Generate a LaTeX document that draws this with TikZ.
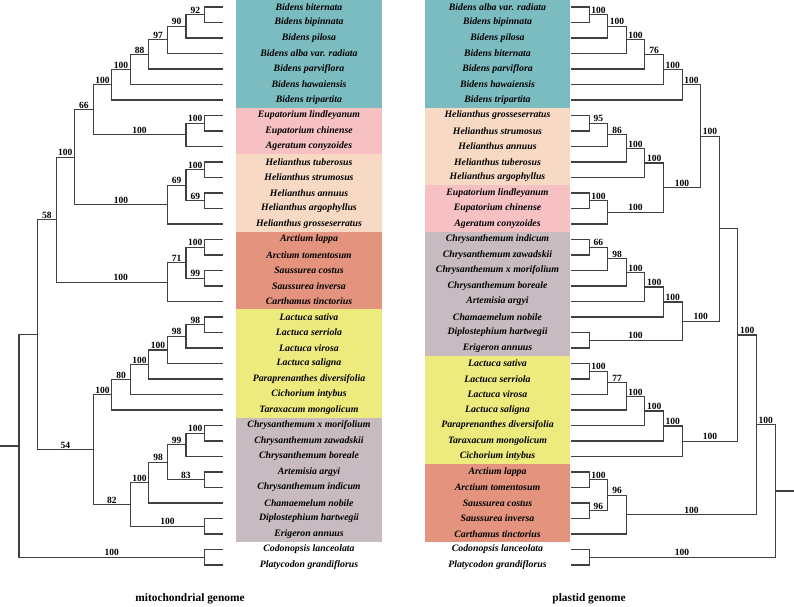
\documentclass[tikz,border=0pt]{standalone}
\usepackage{fontspec}
\setmainfont{Liberation Serif}
\definecolor{bidens}{RGB}{123,188,193}
\definecolor{eupat}{RGB}{247,193,196}
\definecolor{helian}{RGB}{248,217,196}
\definecolor{arctium}{RGB}{228,147,126}
\definecolor{lactuca}{RGB}{238,235,126}
\definecolor{chrysan}{RGB}{200,186,193}

\begin{document}
\begin{tikzpicture}[
    x=1pt, y=-1pt,
    branch/.style={draw=black!75, line width=1.1pt},
    bs/.style={pos=0.75, above, inner sep=0.8pt, font=\fontsize{9.5}{10}\selectfont\bfseries},
    leaf/.style={inner sep=0pt, font=\fontsize{9.8}{11}\selectfont\bfseries\itshape},
    caption/.style={font=\fontsize{11.4}{13}\selectfont\bfseries}
]
    \useasboundingbox (0,0) rectangle (794,606);

    % colour blocks, mitochondrial side
    \fill[bidens]  (236,0) rectangle (382,107.75);
    \fill[eupat]   (236,107.75) rectangle (382,154.25);
    \fill[helian]  (236,154.25) rectangle (382,231.75);
    \fill[arctium] (236,231.75) rectangle (382,309.25);
    \fill[lactuca] (236,309.25) rectangle (382,417.75);
    \fill[chrysan] (236,417.75) rectangle (382,541.75);
    % colour blocks, plastid side
    \fill[bidens]  (425,0) rectangle (570,107.75);
    \fill[helian]  (425,107.75) rectangle (570,185.25);
    \fill[eupat]   (425,185.25) rectangle (570,231.75);
    \fill[chrysan] (425,231.75) rectangle (570,355.75);
    \fill[lactuca] (425,355.75) rectangle (570,464.25);
    \fill[arctium] (425,464.25) rectangle (570,541.75);

    % taxa
    \foreach \t [count=\i from 0] in {Bidens biternata, Bidens bipinnata, Bidens pilosa,
        Bidens alba var. radiata, Bidens parviflora, Bidens hawaiensis, Bidens tripartita,
        Eupatorium lindleyanum, Eupatorium chinense, Ageratum conyzoides,
        Helianthus tuberosus, Helianthus strumosus, Helianthus annuus, Helianthus argophyllus,
        Helianthus grosseserratus, Arctium lappa, Arctium tomentosum, Saussurea costus,
        Saussurea inversa, Carthamus tinctorius, Lactuca sativa, Lactuca serriola,
        Lactuca virosa, Lactuca saligna, Paraprenanthes diversifolia, Cichorium intybus,
        Taraxacum mongolicum, Chrysanthemum x morifolium, Chrysanthemum zawadskii,
        Chrysanthemum boreale, Artemisia argyi, Chrysanthemum indicum, Chamaemelum nobile,
        Diplostephium hartwegii, Erigeron annuus, Codonopsis lanceolata, Platycodon grandiflorus}
    {
        \node[leaf] (ml\i) at (309,{7+15.5*\i}) {\t};
        \coordinate (mt\i) at (223,{7+15.5*\i});
    }
    \foreach \t [count=\i from 0] in {Bidens alba var. radiata, Bidens bipinnata, Bidens pilosa,
        Bidens biternata, Bidens parviflora, Bidens hawaiensis, Bidens tripartita,
        Helianthus grosseserratus, Helianthus strumosus, Helianthus annuus,
        Helianthus tuberosus, Helianthus argophyllus, Eupatorium lindleyanum,
        Eupatorium chinense, Ageratum conyzoides, Chrysanthemum indicum,
        Chrysanthemum zawadskii, Chrysanthemum x morifolium, Chrysanthemum boreale,
        Artemisia argyi, Chamaemelum nobile, Diplostephium hartwegii, Erigeron annuus,
        Lactuca sativa, Lactuca serriola, Lactuca virosa, Lactuca saligna,
        Paraprenanthes diversifolia, Taraxacum mongolicum, Cichorium intybus,
        Arctium lappa, Arctium tomentosum, Saussurea costus, Saussurea inversa,
        Carthamus tinctorius, Codonopsis lanceolata, Platycodon grandiflorus}
    {
        \node[leaf] (pl\i) at (497.5,{7+15.5*\i}) {\t};
        \coordinate (pt\i) at (570.5,{7+15.5*\i});
    }

    % mitochondrial tree
    \foreach \n/\x/\y in {mA1/204.5/14.75, mA2/186/26.38, mA3/167.4/39.94, mA4/148.8/54.47,
        mA5/130.3/69.48, mA6/111.7/84.74, mE1/204.5/123.25, mE2/186/134.88, mAE/93.2/109.81,
        mH1/204.5/169.75, mH2/204.5/200.75, mH3/186/185.25, mH4/167.4/204.63, mAEH/74.6/157.22,
        mR1/204.5/247.25, mR2/204.5/278.25, mR3/186/262.75, mR4/167.4/282.13, mU/56.1/219.67,
        mL1/204.5/324.75, mL2/186/336.38, mL3/167.4/349.94, mL4/148.8/364.47, mL5/130.3/379.48,
        mL6/111.7/394.74, mC1/204.5/433.25, mC2/186/444.88, mC3/204.5/479.75, mC4/167.4/462.31,
        mC5/148.8/482.66, mD1/204.5/526.25, mC6/130.3/504.45, mLC/93.2/449.6, mIn/37.5/334.63,
        mO/204.5/557.25, mRoot/19/445.94, mStub/0/445.94}
        \coordinate (\n) at (\x,\y);

    \foreach \p/\c in {mA1/mt0, mA1/mt1, mA2/mt2, mA3/mt3, mA4/mt4, mA5/mt5, mA6/mt6,
        mE1/mt7, mE1/mt8, mE2/mt9, mH1/mt10, mH1/mt11, mH2/mt12, mH2/mt13, mH4/mt14,
        mR1/mt15, mR1/mt16, mR2/mt17, mR2/mt18, mR4/mt19, mL1/mt20, mL1/mt21, mL2/mt22,
        mL3/mt23, mL4/mt24, mL5/mt25, mL6/mt26, mC1/mt27, mC1/mt28, mC2/mt29, mC3/mt30,
        mC3/mt31, mC5/mt32, mD1/mt33, mD1/mt34, mO/mt35, mO/mt36, mRoot/mIn}
        \draw[branch] (\p) |- (\c);

    \foreach \p/\c/\b in {mA2/mA1/92, mA3/mA2/90, mA4/mA3/97, mA5/mA4/88, mA6/mA5/100,
        mAE/mA6/100, mE2/mE1/100, mAE/mE2/100, mAEH/mAE/66, mH3/mH1/100, mH3/mH2/69,
        mH4/mH3/69, mAEH/mH4/100, mU/mAEH/100, mR3/mR1/100, mR3/mR2/99, mR4/mR3/71,
        mIn/mU/58, mL2/mL1/98, mL3/mL2/98, mL4/mL3/100, mL5/mL4/100, mL6/mL5/80,
        mLC/mL6/100, mC2/mC1/100, mC4/mC2/99, mC4/mC3/83, mC5/mC4/98, mC6/mC5/100,
        mC6/mD1/100, mLC/mC6/82, mIn/mLC/54, mRoot/mO/100}
        \draw[branch] (\p) |- node[bs]{\b} (\c);
    \draw[branch] (mU) |- node[bs,pos=0.79]{100} (mR4);
    \draw[branch] (mRoot) -- (mStub);

    % plastid tree
    \foreach \n/\x/\y in {pA1/589.1/14.75, pA2/607.7/26.38, pA3/626.3/39.94, pA4/644.9/54.47,
        pA5/663.5/69.48, pA6/682.1/84.74, pH1/589.1/123.25, pH2/607.7/134.88, pH3/626.3/148.44,
        pH4/644.9/162.97, pE1/589.1/200.75, pE2/607.7/212.38, pHE/663.5/187.67, pB/700.7/136.2,
        pC1/589.1/247.25, pC2/607.7/258.88, pC3/626.3/272.44, pC4/644.9/286.97,
        pC5/663.5/301.98, pD1/589.1/340.25, pC6/682.1/321.12, pF/719.3/228.66,
        pL1/589.1/371.25, pL2/607.7/382.88, pL3/626.3/396.44, pL4/644.9/410.97,
        pL5/663.5/425.98, pL6/682.1/441.24, pG/737.9/334.95, pR1/589.1/479.75,
        pR2/589.1/510.75, pR3/607.7/495.25, pR4/626.3/514.63, pK/756.5/424.79,
        pO/589.1/557.25, pRoot/775.1/491.02, pStub/794/491.02}
        \coordinate (\n) at (\x,\y);

    \foreach \p/\c in {pA1/pt0, pA1/pt1, pA2/pt2, pA3/pt3, pA4/pt4, pA5/pt5, pA6/pt6,
        pH1/pt7, pH1/pt8, pH2/pt9, pH3/pt10, pH4/pt11, pE1/pt12, pE1/pt13, pE2/pt14,
        pC1/pt15, pC1/pt16, pC2/pt17, pC3/pt18, pC4/pt19, pC5/pt20, pD1/pt21, pD1/pt22,
        pL1/pt23, pL1/pt24, pL2/pt25, pL3/pt26, pL4/pt27, pL5/pt28, pL6/pt29, pR1/pt30,
        pR1/pt31, pR2/pt32, pR2/pt33, pR4/pt34, pO/pt35, pO/pt36, pG/pF}
        \draw[branch] (\p) |- (\c);

    \foreach \p/\c/\b in {pA2/pA1/100, pA3/pA2/100, pA4/pA3/100, pA5/pA4/76, pA6/pA5/100,
        pB/pA6/100, pH2/pH1/95, pH3/pH2/86, pH4/pH3/100, pHE/pH4/100, pE2/pE1/100,
        pHE/pE2/100, pB/pHE/100, pF/pB/100, pC2/pC1/66, pC3/pC2/98, pC4/pC3/100,
        pC5/pC4/100, pC6/pC5/100, pC6/pD1/100, pF/pC6/100, pL2/pL1/100, pL3/pL2/77,
        pL4/pL3/100, pL5/pL4/100, pL6/pL5/100, pG/pL6/100, pK/pG/100, pR3/pR1/100,
        pR3/pR2/96, pR4/pR3/96, pK/pR4/100, pRoot/pK/100, pRoot/pO/100}
        \draw[branch] (\p) |- node[bs]{\b} (\c);
    \draw[branch] (pRoot) -- (pStub);

    \node[caption] (mcap) at (190,599) {mitochondrial genome};
    \node[caption] (pcap) at (589,599) {plastid genome};
\end{tikzpicture}
\end{document}
